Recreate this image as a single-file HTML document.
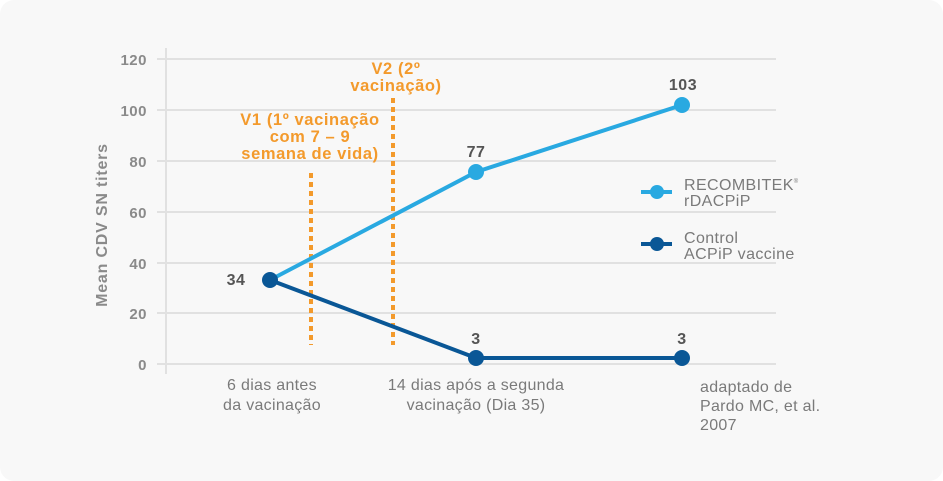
<!DOCTYPE html>
<html><head><meta charset="utf-8"><style>
html,body{margin:0;padding:0;background:#fff;}
svg{display:block;font-family:"Liberation Sans",sans-serif;}
</style></head><body>
<svg width="943" height="481" viewBox="0 0 943 481">
<rect x="0" y="0" width="943" height="481" rx="14" fill="#f8f8f8"/>
<g stroke="#e1e1e1" stroke-width="2">
<line x1="157" y1="59" x2="776" y2="59"/>
<line x1="157" y1="110" x2="776" y2="110"/>
<line x1="157" y1="161" x2="776" y2="161"/>
<line x1="157" y1="212" x2="776" y2="212"/>
<line x1="157" y1="263" x2="776" y2="263"/>
<line x1="157" y1="313" x2="776" y2="313"/>
<line x1="157" y1="364" x2="776" y2="364"/>
<line x1="166" y1="48" x2="166" y2="374"/>
</g>
<g fill="#8a8a8a" font-size="15" font-weight="bold" text-anchor="end" letter-spacing="0.5">
<text x="147" y="65">120</text><text x="147" y="116">100</text><text x="147" y="167">80</text>
<text x="147" y="218">60</text><text x="147" y="269">40</text><text x="147" y="319">20</text><text x="147" y="370">0</text>
</g>
<text transform="translate(107,225) rotate(-90)" text-anchor="middle" fill="#8a8a8a" font-size="16" font-weight="bold" letter-spacing="0.8">Mean CDV SN titers</text>
<g stroke="#f39a2c" stroke-width="4" stroke-dasharray="5,4">
<line x1="311" y1="173" x2="311" y2="345"/>
<line x1="393" y1="98" x2="393" y2="345"/>
</g>
<g fill="#f39a2c" font-size="16.5" font-weight="bold" text-anchor="middle" letter-spacing="0.6">
<text x="310" y="125">V1 (1º vacinação</text>
<text x="310" y="142">com 7 – 9</text>
<text x="310" y="159">semana de vida)</text>
<text x="396" y="74">V2 (2º</text>
<text x="396" y="91">vacinação)</text>
</g>
<polyline points="270,280 476,172 682,105" fill="none" stroke="#29a9e1" stroke-width="4"/>
<polyline points="270,280 476,358 682,358" fill="none" stroke="#0a5796" stroke-width="4"/>
<circle cx="476" cy="172" r="8" fill="#29a9e1"/>
<circle cx="682" cy="105" r="8" fill="#29a9e1"/>
<circle cx="270" cy="280" r="8" fill="#0a5796"/>
<circle cx="476" cy="358" r="8" fill="#0a5796"/>
<circle cx="682" cy="358" r="8" fill="#0a5796"/>
<g fill="#555" font-size="16" font-weight="bold" text-anchor="middle" letter-spacing="0.5">
<text x="236" y="285">34</text>
<text x="476" y="157">77</text>
<text x="683" y="90">103</text>
<text x="476" y="344">3</text>
<text x="682" y="344">3</text>
</g>
<line x1="641" y1="192" x2="672" y2="192" stroke="#29a9e1" stroke-width="4"/>
<circle cx="657" cy="192" r="7" fill="#29a9e1"/>
<line x1="641" y1="244" x2="672" y2="244" stroke="#0a5796" stroke-width="4"/>
<circle cx="657" cy="244" r="7" fill="#0a5796"/>
<g fill="#7a7a7a" font-size="16" letter-spacing="0.4">
<text x="684" y="190">RECOMBITEK<tspan font-size="6" dy="-7">®</tspan></text>
<text x="684" y="206">rDACPiP</text>
<text x="684" y="243">Control</text>
<text x="684" y="259">ACPiP vaccine</text>
</g>
<g fill="#7a7a7a" font-size="16" text-anchor="middle" letter-spacing="0.3">
<text x="272" y="390">6 dias antes</text>
<text x="272" y="410">da vacinação</text>
<text x="476" y="390">14 dias após a segunda</text>
<text x="476" y="410">vacinação (Dia 35)</text>
</g>
<g fill="#7a7a7a" font-size="16" letter-spacing="0.3">
<text x="700" y="392">adaptado de</text>
<text x="700" y="411">Pardo MC, et al.</text>
<text x="700" y="430">2007</text>
</g>
</svg>
</body></html>
